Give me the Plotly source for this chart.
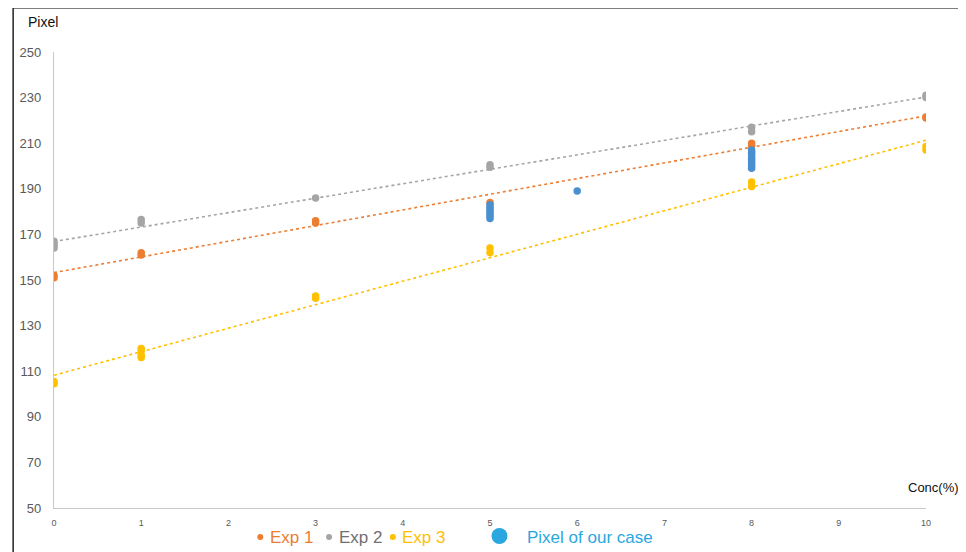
import numpy as np
import plotly.graph_objects as go

# ---- data ----
exp1_x = [0, 0, 1, 1, 3, 3, 5, 8, 8, 10, 10]
exp1_y = [151, 152, 161, 162, 175, 176, 184, 209, 210, 221, 221.5]

exp2_x = [0, 0, 0, 0, 1, 1, 3, 5, 5, 8, 8, 10, 10]
exp2_y = [164, 165, 166, 167, 175, 176.5, 186, 199.5, 200.5, 215, 217, 230, 231]

exp3_x = [0, 0, 1, 1, 1, 1, 3, 3, 5, 5, 8, 8, 10, 10]
exp3_y = [104.5, 105.5, 116, 117, 119, 120, 142, 143, 162, 164, 191, 193, 207, 208.5]

case_x = [5, 5, 5, 5, 5, 5, 5, 6, 8, 8, 8, 8, 8, 8, 8, 8, 8]
case_y = [177, 178, 179, 180, 181, 182, 183, 189, 199, 200, 201, 202, 203, 204, 205, 206, 207]

x_ticks = [0, 1, 2, 3, 4, 5, 6, 7, 8, 9, 10]
y_ticks = [50, 70, 90, 110, 130, 150, 170, 190, 210, 230, 250]

ORANGE = "#ED7D31"
GRAY = "#A5A5A5"
YELLOW = "#FFC000"
BLUE = "#4A90D0"
BLUE_LEG = "#2AA7E0"
FONT = "Liberation Sans, Arial, sans-serif"

# page has an 8px body margin, so everything is laid out 8px up/left
OFF = 8
L, T = 51 - OFF, 52 - OFF
PW, PH = 875.0, 456.0

fig = go.Figure()

series = [(exp1_x, exp1_y, ORANGE, "Exp 1"),
          (exp2_x, exp2_y, GRAY, "Exp 2"),
          (exp3_x, exp3_y, YELLOW, "Exp 3")]

# linear trendlines (fitted from the data)
for xs, ys, col, name in series:
    k, b = np.polyfit(xs, ys, 1)
    tx = np.array([0, 10])
    fig.add_trace(go.Scatter(x=tx, y=k * tx + b, mode="lines",
                             line=dict(color=col, width=1.6, dash="dot"),
                             hoverinfo="skip", showlegend=False))

for xs, ys, col, name in series:
    fig.add_trace(go.Scatter(x=xs, y=ys, mode="markers", name=name,
                             marker=dict(color=col, size=7.5), showlegend=False))

fig.add_trace(go.Scatter(x=case_x, y=case_y, mode="markers", name="Pixel of our case",
                         marker=dict(color=BLUE, size=7.5), showlegend=False))

fig.update_layout(
    width=966 - OFF, height=552 - OFF,
    margin=dict(l=L, r=966 - OFF - L - int(PW), t=T, b=552 - OFF - T - int(PH)),
    paper_bgcolor="white", plot_bgcolor="white",
    font=dict(family=FONT, color="#595959"),
    xaxis=dict(range=[0, 10], tickvals=x_ticks, showgrid=False, zeroline=False,
               showline=True, linecolor="#C8C8C8", linewidth=1.2,
               ticks="", tickfont=dict(size=9, color="#595959"),
               ticklabelstandoff=6),
    yaxis=dict(range=[50, 250], tickvals=y_ticks, showgrid=False, zeroline=False,
               showline=True, linecolor="#C8C8C8", linewidth=1.2,
               ticks="", tickfont=dict(size=13, color="#595959"),
               ticklabelstandoff=9),
)


def px(xp):
    return (xp - 51) / PW


def py(yp):
    return (508 - yp) / PH


# frame lines (top and left)
fig.add_shape(type="line", xref="paper", yref="paper",
              x0=px(10), x1=px(970), y0=py(8), y1=py(8),
              line=dict(color="#555555", width=1.5))
fig.add_shape(type="line", xref="paper", yref="paper",
              x0=px(10), x1=px(10), y0=py(8), y1=py(560),
              line=dict(color="#222222", width=1.5))

# axis titles
fig.add_annotation(text="Pixel", xref="paper", yref="paper", x=px(23), y=py(22),
                   xanchor="left", yanchor="middle", showarrow=False,
                   font=dict(size=14, color="#111111", family=FONT))
fig.add_annotation(text="Conc(%)", xref="paper", yref="paper", x=px(961), y=py(487),
                   xanchor="right", yanchor="middle", showarrow=False,
                   font=dict(size=13, color="#111111", family=FONT))

# legend (drawn as markers + text annotations)
LY = 537
legend_items = [(258, 266, "Exp 1", ORANGE, ORANGE),
                (327, 335, "Exp 2", GRAY, "#707070"),
                (391, 398, "Exp 3", YELLOW, YELLOW)]
for dx, tx, label, dcol, tcol in legend_items:
    fig.add_shape(type="circle", xref="paper", yref="paper",
                  x0=px(dx - 3), x1=px(dx + 3), y0=py(LY + 3), y1=py(LY - 3),
                  fillcolor=dcol, line=dict(width=0))
    fig.add_annotation(text=label, xref="paper", yref="paper",
                       x=px(tx), y=py(LY), xanchor="left", yanchor="middle",
                       showarrow=False, font=dict(size=17, color=tcol, family=FONT))

fig.add_shape(type="circle", xref="paper", yref="paper",
              x0=px(490), x1=px(506), y0=py(544), y1=py(528),
              fillcolor=BLUE_LEG, line=dict(width=0))
fig.add_annotation(text="Pixel of our case", xref="paper", yref="paper",
                   x=px(524), y=py(LY), xanchor="left", yanchor="middle", showarrow=False,
                   font=dict(size=17, color=BLUE_LEG, family=FONT))

fig.write_html("out.html")
